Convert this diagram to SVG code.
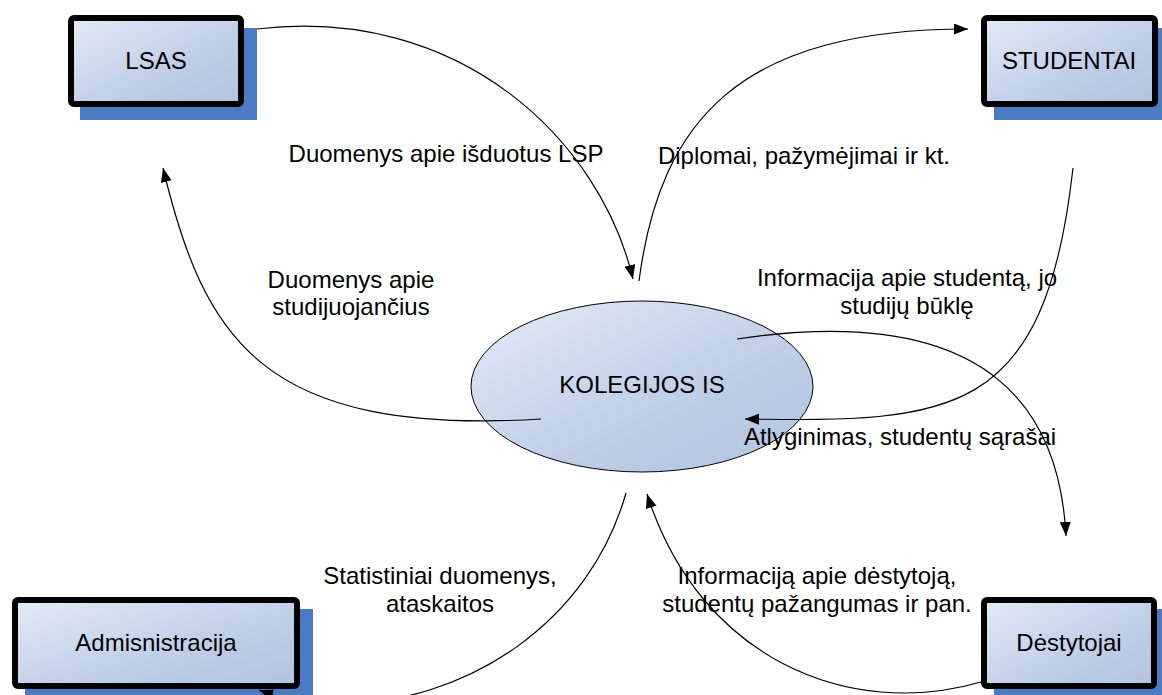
<svg xmlns="http://www.w3.org/2000/svg" width="1162" height="695" viewBox="0 0 1162 695">
  <defs>
    <linearGradient id="fillBlue" x1="0" y1="0" x2="1" y2="1">
      <stop offset="0" stop-color="#e3eaf6"/>
      <stop offset="0.65" stop-color="#bccce5"/>
      <stop offset="1" stop-color="#b2c4e0"/>
    </linearGradient>
    <marker id="arrow" markerUnits="userSpaceOnUse" markerWidth="15" markerHeight="12" refX="14" refY="5.5" orient="auto">
      <path d="M0,0 L14,5.5 L0,11 z" fill="#000"/>
    </marker>
    <style>
      .shadow { fill: #4a7bc3; }
      .box { fill: url(#fillBlue); stroke: #000; stroke-width: 6; }
      .proc { fill: url(#fillBlue); stroke: #000; stroke-width: 1; }
      .lbl { font-family: "Liberation Sans", Arial, sans-serif; font-size: 24px; fill: #000; text-anchor: middle; }
      .flow { fill: none; stroke: #000; stroke-width: 1.2; }
      .flow.arr { marker-end: url(#arrow); }
    </style>
  </defs>

  <rect width="1162" height="695" fill="#fff"/>

  <!-- external entities -->
  <g id="lsas">
    <rect class="shadow" x="80" y="28" width="177" height="92"/>
    <rect class="box" x="71" y="18" width="170" height="86" rx="3"/>
    <text class="lbl" x="156" y="69">LSAS</text>
  </g>
  <g id="studentai">
    <rect class="shadow" x="994" y="28" width="177" height="92"/>
    <rect class="box" x="984" y="18" width="171" height="86" rx="3"/>
    <text class="lbl" x="1069" y="69">STUDENTAI</text>
  </g>
  <g id="admin">
    <rect class="shadow" x="25" y="609" width="288" height="92"/>
    <rect class="box" x="15" y="600" width="282" height="86" rx="3"/>
    <text class="lbl" x="156" y="651">Admisnistracija</text>
  </g>
  <g id="destytojai">
    <rect class="shadow" x="994" y="609" width="177" height="92"/>
    <rect class="box" x="984" y="600" width="170" height="86" rx="3"/>
    <text class="lbl" x="1069" y="651">Dėstytojai</text>
  </g>

  <!-- central process -->
  <g id="kolegijos">
    <ellipse class="proc" cx="642" cy="386.5" rx="171" ry="85.5"/>
    <text class="lbl" x="642" y="393">KOLEGIJOS IS</text>
  </g>

  <!-- data flows -->
  <g id="flows">
    <path class="flow arr" d="M257,29 C460,5 600,140 633,279"/>
    <path class="flow arr" d="M639,281 C660,120 740,29 968,29"/>
    <path class="flow arr" d="M1073,168 C1045,420 950,422 745,419"/>
    <path class="flow arr" d="M737,339 C1000,300 1060,420 1066,536"/>
    <path class="flow arr" d="M541,419 C261,436 204,338 163,168"/>
    <path class="flow arr" d="M626,493 C590,620 470,705 330,705 C300,705 280,698 259,690"/>
    <path class="flow arr" d="M981,682 C850,720 700,660 647,494"/>
  </g>

  <!-- flow labels -->
  <g id="labels">
    <text class="lbl" x="446" y="162">Duomenys apie išduotus LSP</text>
    <text class="lbl" x="804" y="164">Diplomai, pažymėjimai ir kt.</text>
    <text class="lbl" x="351" y="288">Duomenys apie</text>
    <text class="lbl" x="351" y="315">studijuojančius</text>
    <text class="lbl" x="907" y="286">Informacija apie studentą, jo</text>
    <text class="lbl" x="907" y="314">studijų būklę</text>
    <text class="lbl" x="900" y="445">Atlyginimas, studentų sąrašai</text>
    <text class="lbl" x="440" y="584">Statistiniai duomenys,</text>
    <text class="lbl" x="440" y="612">ataskaitos</text>
    <text class="lbl" x="817" y="584">Informaciją apie dėstytoją,</text>
    <text class="lbl" x="817" y="612">studentų pažangumas ir pan.</text>
  </g>
</svg>
